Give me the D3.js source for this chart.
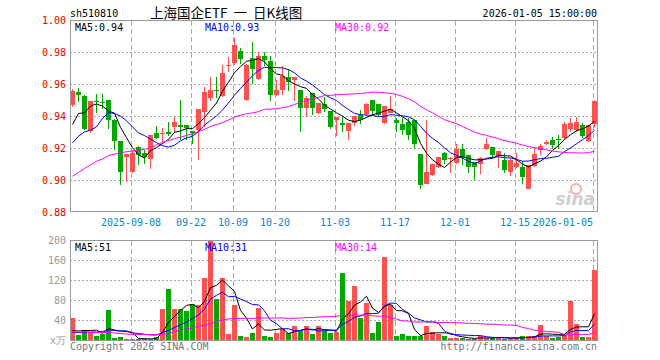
<!DOCTYPE html>
<html>
<head>
<meta charset="utf-8">
<script src="https://cdn.jsdelivr.net/npm/d3@7"></script>
<style>
  body { margin: 0; background: #fff; }
  text { font-family: "DejaVu Sans Mono", monospace; font-size: 10px; }
</style>
</head>
<body>
<script>
// trading days shown (88)
const dates = [
  "2025-08-25","2025-08-26","2025-08-27","2025-08-28","2025-08-29",
  "2025-09-01","2025-09-02","2025-09-03","2025-09-04","2025-09-05",
  "2025-09-08","2025-09-09","2025-09-10","2025-09-11","2025-09-12",
  "2025-09-15","2025-09-16","2025-09-17","2025-09-18","2025-09-19",
  "2025-09-22","2025-09-23","2025-09-24","2025-09-25","2025-09-26",
  "2025-09-29","2025-09-30","2025-10-09","2025-10-10",
  "2025-10-13","2025-10-14","2025-10-15","2025-10-16","2025-10-17",
  "2025-10-20","2025-10-21","2025-10-22","2025-10-23","2025-10-24",
  "2025-10-27","2025-10-28","2025-10-29","2025-10-30","2025-10-31",
  "2025-11-03","2025-11-04","2025-11-05","2025-11-06","2025-11-07",
  "2025-11-10","2025-11-11","2025-11-12","2025-11-13","2025-11-14",
  "2025-11-17","2025-11-18","2025-11-19","2025-11-20","2025-11-21",
  "2025-11-24","2025-11-25","2025-11-26","2025-11-27","2025-11-28",
  "2025-12-01","2025-12-02","2025-12-03","2025-12-04","2025-12-05",
  "2025-12-08","2025-12-09","2025-12-10","2025-12-11","2025-12-12",
  "2025-12-15","2025-12-16","2025-12-17","2025-12-18","2025-12-19",
  "2025-12-22","2025-12-23","2025-12-24","2025-12-25","2025-12-26",
  "2025-12-29","2025-12-30","2025-12-31","2026-01-05"
];

const opens = [
  .9475,.9554,.9527,.9308,.9498,.9492,.9502,.9381,.9246,.9148,
  .9054,.9210,.9169,.9135,.9294,.9290,.9304,.9335,.9346,.9346,
  .9310,.9315,.9430,.9513,.9565,.9529,.9715,.9735,.9808,.9502,
  .9767,.9633,.9777,.9746,.9533,.9565,.9648,.9627,.9565,.9454,
  .9544,.9420,.9481,.9433,.9380,.9362,.9310,.9362,.9408,.9415,
  .9502,.9477,.9360,.9419,.9381,.9356,.9367,.9381,.9165,.8980,
  .9033,.9085,.9169,.9133,.9110,.9194,.9158,.9117,.9106,.9194,
  .9210,.9152,.9127,.9054,.9085,.9085,.8944,.9090,.9190,.9231,
  .9256,.9258,.9263,.9325,.9315,.9346,.9248,.9352
];
const highs = [
  .9570,.9580,.9533,.9496,.9540,.9538,.9505,.9385,.9250,.9165,
  .9190,.9215,.9190,.9283,.9342,.9330,.9367,.9398,.9502,.9346,
  .9310,.9446,.9585,.9648,.9648,.9720,.9773,.9888,.9829,.9731,
  .9867,.9804,.9804,.9777,.9627,.9715,.9696,.9644,.9565,.9527,
  .9544,.9485,.9523,.9433,.9398,.9394,.9360,.9402,.9440,.9485,
  .9502,.9477,.9465,.9527,.9388,.9392,.9392,.9381,.9165,.9377,
  .9106,.9148,.9180,.9148,.9230,.9230,.9158,.9117,.9148,.9263,
  .9210,.9185,.9173,.9138,.9169,.9123,.9096,.9210,.9231,.9256,
  .9269,.9283,.9367,.9388,.9394,.9362,.9346,.9506
];
const lows = [
  .9460,.9490,.9315,.9300,.9423,.9444,.9325,.9190,.8975,.8990,
  .9050,.9100,.9106,.9075,.9260,.9240,.9280,.9294,.9252,.9256,
  .9231,.9127,.9335,.9500,.9513,.9523,.9680,.9720,.9731,.9498,
  .9606,.9627,.9715,.9498,.9529,.9533,.9558,.9500,.9304,.9398,
  .9408,.9415,.9430,.9325,.9277,.9304,.9252,.9340,.9352,.9402,
  .9402,.9398,.9355,.9419,.9304,.9283,.9252,.9200,.8950,.8977,
  .9027,.9080,.9106,.9050,.9106,.9100,.9050,.9006,.9040,.9190,
  .9138,.9080,.9044,.9027,.9080,.8977,.8944,.9085,.9160,.9220,
  .9200,.9200,.9256,.9304,.9304,.9263,.9242,.9335
];
const closes = [
  .9558,.9533,.9319,.9496,.9488,.9488,.9381,.9250,.9054,.9165,
  .9175,.9158,.9150,.9283,.9263,.9300,.9288,.9367,.9335,.9331,
  .9298,.9446,.9554,.9565,.9558,.9669,.9725,.9850,.9758,.9725,
  .9696,.9779,.9752,.9537,.9565,.9652,.9617,.9644,.9454,.9513,
  .9454,.9485,.9446,.9335,.9398,.9346,.9360,.9402,.9381,.9481,
  .9433,.9408,.9465,.9444,.9360,.9315,.9283,.9231,.8971,.9054,
  .9106,.9148,.9127,.9138,.9200,.9138,.9085,.9085,.9138,.9227,
  .9158,.9185,.9065,.9131,.9110,.9020,.9096,.9165,.9215,.9242,
  .9220,.9252,.9356,.9360,.9367,.9277,.9346,.9498
];
// volume, 10k lots
const volumes = [
  45,12,21,17,9,13,61,5,7,3,
  3,3,3,4,7,63,103,63,63,59,
  73,71,125,200,83,125,13,71,9,7,
  15,65,9,7,15,23,15,29,19,29,
  13,29,19,15,17,135,79,109,45,75,
  15,37,167,71,9,13,9,9,9,29,
  17,13,9,5,5,5,3,3,10,5,
  5,7,3,5,5,9,9,9,31,9,
  5,7,11,79,33,7,7,141
];

// averages before the window is full
const ma5Lead = [.9350,.9419,.9423,.9465];
const ma10Lead = [.9235,.9277,.9304,.9315,.9335,.9388,.9425,.9419,.9402];
const ma30Lead = [
  .9027,.9050,.9075,.9098,.9120,.9135,.9155,.9165,.9172,.9180,
  .9185,.9188,.9195,.9205,.9222,.9238,.9250,.9262,.9270,.9282,
  .9292,.9305,.9320,.9338,.9350,.9362,.9378,.9395,.9408
];
const vma5Lead = [20,19,20,20];
const vma10Lead = [16,16,16,17,17,18,21,20,19];
const vma30Lead = [
  17,17,17,16,16,16,16,15,14,13,
  12,12,12,12,12,12,14,18,21,23,
  26,28,31,34,38,41,43,44,44
];

const priceTicks = [1.00, 0.98, 0.96, 0.94, 0.92, 0.90, 0.88];
const volTicks = [200, 160, 120, 80, 40];
const dateTickIdx = [10, 20, 27, 34, 44, 54, 64, 74, 87];
const dateTickLabels = ["2025-09-08","09-22","10-09","10-20","11-03","11-17","12-01","12-15","2026-01-05"];
const priceMaText = ["MA5:0.94", "MA10:0.93", "MA30:0.92"];
const volMaText = ["MA5:51", "MA10:31", "MA30:14"];

const width = 660, height = 360;
const left = 70, right = 597;
const pTop = 20.5, pBottom = 212.5;
const vTop = 240.5, vBottom = 340.5;
const up = "#ff5050", down = "#00a800";
const maColors = ["#000000", "#0000ff", "#ff00ff"];

function movingAvg(arr, n, lead) {
  return arr.map((d, i) => i < n - 1 ? lead[i] : d3.mean(arr.slice(i - n + 1, i + 1)));
}

const ma5 = movingAvg(closes, 5, ma5Lead);
const ma10 = movingAvg(closes, 10, ma10Lead);
const ma30 = movingAvg(closes, 30, ma30Lead);
const vma5 = movingAvg(volumes, 5, vma5Lead);
const vma10 = movingAvg(volumes, 10, vma10Lead);
const vma30 = movingAvg(volumes, 30, vma30Lead);

const x = d3.scaleLinear().domain([0, 88]).range([left, left + 528]);
const y = d3.scaleLinear().domain([0.88, 1.00]).range([pBottom, pTop]);
const vy = d3.scaleLinear().domain([0, 200]).range([vBottom, vTop]);

const svg = d3.select("body").append("svg")
  .attr("width", width)
  .attr("height", height)
  .attr("viewBox", [0, 0, width, height]);

// header
svg.append("text").attr("x", 70).attr("y", 17).attr("fill", "#000").text("sh510810");
svg.append("text").attr("x", 150).attr("y", 18)
  .style("font-family", "'Noto Sans CJK SC', sans-serif").style("font-size", "13.5px")
  .style("white-space", "pre")
  .attr("fill", "#000").text("上海国企ETF  一  日K线图");
svg.append("text").attr("x", right).attr("y", 17).attr("text-anchor", "end")
  .attr("fill", "#000").text("2026-01-05 15:00:00");

// grid
const grid = svg.append("g").attr("shape-rendering", "crispEdges");
grid.selectAll(".hp").data(priceTicks.slice(1, -1)).join("line")
  .attr("x1", left).attr("x2", right)
  .attr("y1", d => y(d)).attr("y2", d => y(d))
  .attr("stroke", "#aaa").attr("stroke-dasharray", "2,2");
grid.selectAll(".hv").data(volTicks.slice(1)).join("line")
  .attr("x1", left).attr("x2", right)
  .attr("y1", d => vy(d)).attr("y2", d => vy(d))
  .attr("stroke", "#aaa").attr("stroke-dasharray", "2,2");
[[pTop, pBottom], [vTop, vBottom]].forEach(([t, b]) => {
  grid.selectAll(null).data(dateTickIdx).join("line")
    .attr("x1", d => x(d) + 1).attr("x2", d => x(d) + 1)
    .attr("y1", t).attr("y2", b)
    .attr("stroke", "#aaa").attr("stroke-dasharray", "5,3");
});

// sina watermark
svg.append("circle").attr("cx", 576).attr("cy", 189).attr("r", 5)
  .attr("fill", "none").attr("stroke", "#f4b0b0").attr("stroke-width", 2);
svg.append("text").attr("x", 595).attr("y", 205).attr("text-anchor", "end")
  .style("font-family", "'DejaVu Sans', sans-serif").style("font-size", "17px")
  .style("font-style", "italic").style("font-weight", "bold")
  .attr("fill", "#cfcfcf").text("sina");

// candles
const idx = d3.range(closes.length);
const candles = svg.append("g").attr("shape-rendering", "crispEdges");
candles.selectAll(".wick").data(idx).join("rect")
  .attr("x", i => x(i) + 2).attr("width", 1)
  .attr("y", i => y(highs[i]))
  .attr("height", i => Math.max(1, y(lows[i]) - y(highs[i])))
  .attr("fill", i => closes[i] >= opens[i] ? up : down);
candles.selectAll(".body").data(idx).join("rect")
  .attr("x", i => x(i)).attr("width", 5)
  .attr("y", i => y(Math.max(opens[i], closes[i])))
  .attr("height", i => Math.max(1, Math.abs(y(opens[i]) - y(closes[i]))))
  .attr("fill", i => closes[i] >= opens[i] ? up : down);

// volume bars
svg.append("g").attr("shape-rendering", "crispEdges")
  .selectAll("rect").data(idx).join("rect")
  .attr("x", i => x(i)).attr("width", 5)
  .attr("y", i => vy(volumes[i]))
  .attr("height", i => vy(0) - vy(volumes[i]))
  .attr("fill", i => closes[i] >= opens[i] ? up : down);

// moving average lines
const lineP = d3.line().x((d, i) => x(i) + 2.5).y(d => y(d));
const lineV = d3.line().x((d, i) => x(i) + 2.5).y(d => vy(d));
[ma5, ma10, ma30].forEach((s, k) => {
  svg.append("path").datum(s).attr("d", lineP)
    .attr("fill", "none").attr("stroke", maColors[k]).attr("stroke-width", 1);
});
[vma5, vma10, vma30].forEach((s, k) => {
  svg.append("path").datum(s).attr("d", lineV)
    .attr("fill", "none").attr("stroke", maColors[k]).attr("stroke-width", 1);
});

// frames
svg.append("rect").attr("x", left + 0.5).attr("y", pTop).attr("width", right - left)
  .attr("height", pBottom - pTop - 1).attr("fill", "none").attr("stroke", "#999");
svg.append("rect").attr("x", left + 0.5).attr("y", vTop).attr("width", right - left)
  .attr("height", vBottom - vTop).attr("fill", "none").attr("stroke", "#999");

// price labels
svg.append("g").selectAll("text").data(priceTicks).join("text")
  .attr("x", 66).attr("y", d => y(d) + 3.5).attr("text-anchor", "end")
  .attr("fill", "#e60000").text(d => d.toFixed(2));

// volume labels
svg.append("g").selectAll("text").data(volTicks).join("text")
  .attr("x", 66).attr("y", d => vy(d) + 3.5).attr("text-anchor", "end")
  .attr("fill", "#999").text(d => d);
svg.append("text").attr("x", 66).attr("y", vBottom + 3.5).attr("text-anchor", "end")
  .attr("fill", "#999").text("x万");

// date labels
svg.append("g").selectAll("text").data(dateTickIdx).join("text")
  .attr("x", (d, k) => x(d) + 1)
  .attr("y", 226)
  .attr("text-anchor", (d, k) => k === dateTickIdx.length - 1 ? "end" : "middle")
  .attr("fill", "#0a84d6")
  .text((d, k) => dateTickLabels[k]);

// MA legends
const legendX = [75, 205, 335];
priceMaText.forEach((t, k) => {
  svg.append("text").attr("x", legendX[k]).attr("y", 30.5).attr("fill", maColors[k]).text(t);
});
volMaText.forEach((t, k) => {
  svg.append("text").attr("x", legendX[k]).attr("y", 250.5).attr("fill", maColors[k]).text(t);
});

// footer
svg.append("text").attr("x", 70).attr("y", 349.5).attr("fill", "#777").text("Copyright 2026 SINA.COM");
svg.append("text").attr("x", right).attr("y", 349.5).attr("text-anchor", "end")
  .attr("fill", "#777").text("http://finance.sina.com.cn");
</script>
</body>
</html>
